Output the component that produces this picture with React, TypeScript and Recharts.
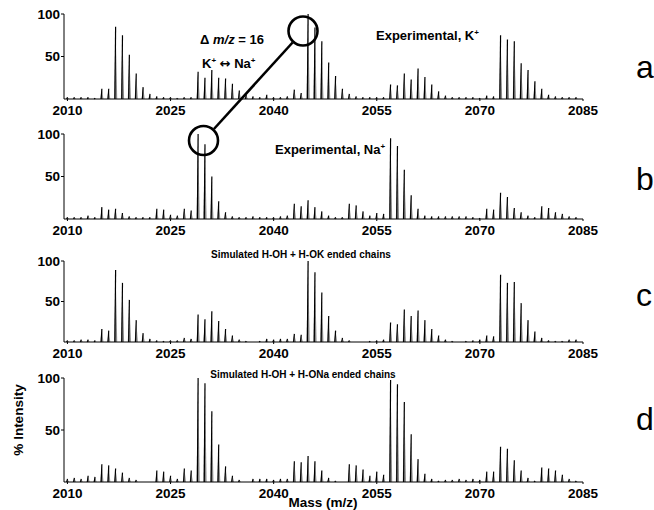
import React from 'react';
import { BarChart, Bar, XAxis, YAxis } from 'recharts';

const masses = [
  2010, 2011, 2012, 2013, 2014, 2015, 2016, 2017, 2018, 2019,
  2020, 2021, 2022, 2023, 2024, 2025, 2026, 2027, 2028, 2029,
  2030, 2031, 2032, 2033, 2034, 2035, 2036, 2037, 2038, 2039,
  2040, 2041, 2042, 2043, 2044, 2045, 2046, 2047, 2048, 2049,
  2050, 2051, 2052, 2053, 2054, 2055, 2056, 2057, 2058, 2059,
  2060, 2061, 2062, 2063, 2064, 2065, 2066, 2067, 2068, 2069,
  2070, 2071, 2072, 2073, 2074, 2075, 2076, 2077, 2078, 2079,
  2080, 2081, 2082, 2083, 2084,
];

// a: Experimental, K+
const intensityA = [
  2, 2, 2, 2, 1, 12, 12, 85, 75, 52,
  30, 14, 6, 3, 2, 2, 1, 2, 2, 32,
  25, 34, 25, 24, 18, 10, 5, 3, 2, 5,
  2, 2, 3, 11, 7, 100, 84, 68, 43, 27,
  12, 6, 3, 2, 2, 2, 2, 17, 16, 30,
  23, 36, 26, 17, 9, 4, 2, 2, 2, 2,
  1, 4, 3, 75, 70, 68, 42, 34, 21, 12,
  5, 3, 2, 2, 2,
];

// b: Experimental, Na+
const intensityB = [
  2, 2, 2, 4, 2, 14, 11, 12, 7, 3,
  2, 2, 2, 12, 11, 5, 4, 12, 10, 100,
  88, 50, 21, 8, 3, 2, 2, 3, 2, 2,
  2, 3, 4, 18, 15, 22, 14, 9, 4, 2,
  2, 18, 16, 9, 4, 7, 6, 95, 86, 58,
  28, 12, 4, 3, 3, 3, 3, 3, 3, 2,
  1, 12, 11, 31, 26, 13, 8, 4, 2, 15,
  13, 8, 6, 3, 2,
];

// c: Simulated H-OH + H-OK ended chains
const intensityC = [
  2, 2, 3, 3, 2, 16, 14, 89, 73, 52,
  27, 11, 4, 2, 1, 2, 2, 5, 4, 34,
  28, 38, 26, 16, 8, 3, 1, 0, 1, 4,
  3, 4, 4, 10, 9, 100, 86, 61, 32, 14,
  5, 2, 0, 0, 1, 2, 3, 24, 22, 40,
  32, 39, 27, 16, 8, 3, 1, 0, 1, 2,
  3, 8, 7, 83, 73, 74, 48, 27, 13, 5,
  2, 1, 1, 3, 3,
];

// d: Simulated H-OH + H-ONa ended chains
const intensityD = [
  3, 4, 3, 6, 5, 17, 16, 13, 9, 4,
  2, 0, 0, 11, 10, 6, 3, 13, 11, 100,
  95, 68, 36, 15, 6, 2, 0, 3, 3, 3,
  2, 3, 3, 20, 19, 25, 20, 11, 4, 1,
  0, 17, 16, 12, 6, 10, 7, 98, 94, 77,
  46, 22, 8, 3, 1, 2, 2, 3, 2, 3,
  2, 10, 10, 34, 32, 21, 11, 4, 1, 14,
  13, 11, 7, 3, 1,
];

const xTicks = [2010, 2025, 2040, 2055, 2070, 2085];
const yTicks = [50, 100];

const FONT = '"Liberation Sans", Arial, sans-serif';

const makeRows = (vals: number[]) => masses.map((m, i) => ({ mass: m, v: vals[i] }));

const Peak = (props: any) => {
  const { x, y, width, height } = props;
  if (!height || height <= 0) return null;
  const cx = x + width / 2;
  const base = y + height;
  const hw = 1.6;
  return (
    <g>
      <polygon points={`${cx - hw},${base} ${cx},${y} ${cx + hw},${base}`} fill="#8a8a8a" />
      <line x1={cx - hw * 0.45} y1={base} x2={cx} y2={y} stroke="#000" strokeWidth={1.2} />
    </g>
  );
};

const tickStyle = { fill: '#000', fontSize: 13.5, fontWeight: 'bold', fontFamily: FONT } as any;

function Panel({ top, plotHeight, vals }: { top: number; plotHeight: number; vals: number[] }) {
  const h = 14 + plotHeight + 20;
  return (
    <div style={{ position: 'absolute', left: 0, top }}>
      <BarChart
        width={654}
        height={h}
        data={makeRows(vals)}
        margin={{ top: 14, right: 71, bottom: 0, left: 0 }}
      >
        <XAxis
          dataKey="mass"
          type="number"
          domain={[2009.5, 2085]}
          ticks={xTicks}
          interval={0}
          allowDataOverflow
          height={20}
          tickSize={2}
          tickMargin={4}
          stroke="#000"
          tick={tickStyle}
        />
        <YAxis
          type="number"
          domain={[0, 100]}
          ticks={yTicks}
          interval={0}
          width={64}
          tickSize={3}
          tickMargin={1}
          stroke="#000"
          tick={tickStyle}
        />
        <Bar dataKey="v" barSize={3} shape={Peak} isAnimationActive={false} />
      </BarChart>
    </div>
  );
}

export default function App() {
  return (
    <div style={{ position: 'absolute', left: 0, top: 0, width: 654, height: 510, background: '#fff', overflow: 'hidden' }}>
      <Panel top={0} plotHeight={85} vals={intensityA} />
      <Panel top={120} plotHeight={85} vals={intensityB} />
      <Panel top={247} plotHeight={81} vals={intensityC} />
      <Panel top={364} plotHeight={104} vals={intensityD} />
      <svg width={654} height={510} style={{ position: 'absolute', left: 0, top: 0, pointerEvents: 'none' }}>
        <g fontFamily={FONT} fill="#000">
          <text x={376} y={40} fontSize={13} fontWeight="bold">
            Experimental, K<tspan fontSize={8} dy={-5}>+</tspan>
          </text>
          <text x={275} y={154} fontSize={13} fontWeight="bold">
            Experimental, Na<tspan fontSize={8} dy={-5}>+</tspan>
          </text>
          <text x={301} y={257.5} fontSize={10} fontWeight="bold" textAnchor="middle">
            Simulated H-OH + H-OK ended chains
          </text>
          <text x={303} y={377.5} fontSize={10} fontWeight="bold" textAnchor="middle">
            Simulated H-OH + H-ONa ended chains
          </text>
          <text x={200} y={43.5} fontSize={13} fontWeight="bold">
            Δ <tspan fontStyle="italic">m/z</tspan> = 16
          </text>
          <text x={202} y={67.5} fontSize={13} fontWeight="bold">
            K<tspan fontSize={8} dy={-5}>+</tspan>
            <tspan dy={5}> </tspan>
            <tspan fontFamily='"DejaVu Sans", sans-serif' fontSize={13}>↔</tspan>
            <tspan> Na</tspan>
            <tspan fontSize={8} dy={-5}>+</tspan>
          </text>
          <text transform="translate(18,420) rotate(-90)" fontSize={13.5} fontWeight="bold" textAnchor="middle" dominantBaseline="central">
            % Intensity
          </text>
          <text x={323} y={507} fontSize={13.5} fontWeight="bold" textAnchor="middle">
            Mass (m/z)
          </text>
          <text x={636} y={78} fontSize={32}>a</text>
          <text x={636} y={190} fontSize={32}>b</text>
          <text x={636} y={306} fontSize={32}>c</text>
          <text x={636} y={430} fontSize={32}>d</text>
        </g>
        <g fill="none" stroke="#000" strokeWidth={2.6}>
          <circle cx={303} cy={31} r={14.5} />
          <circle cx={203.5} cy={140.5} r={14.5} />
          <line x1={292.6} y1={42.5} x2={213.9} y2={129} />
        </g>
      </svg>
    </div>
  );
}
